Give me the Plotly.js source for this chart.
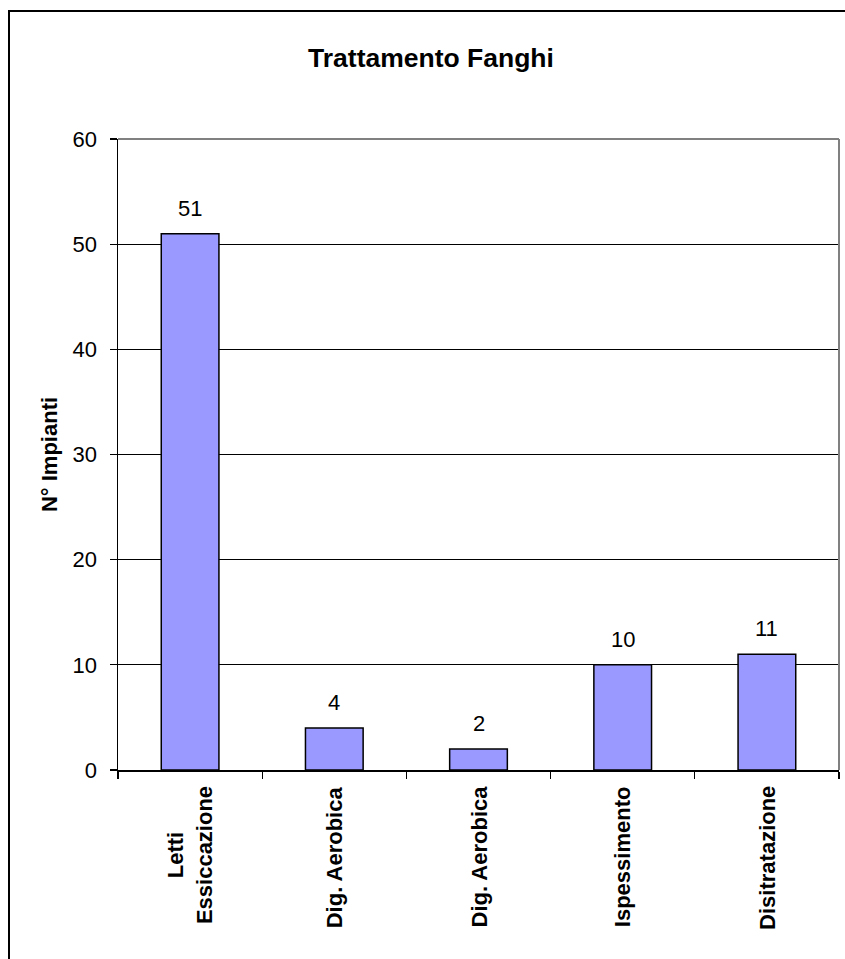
<!DOCTYPE html>
<html>
<head>
<meta charset="utf-8">
<script src="https://cdn.plot.ly/plotly-3.0.1.min.js"></script>
<style>
  html, body { margin: 0; padding: 0; background: #fff; }
  #wrap { position: relative; width: 845px; height: 959px; overflow: hidden; }
  #chart { position: absolute; left: 0; top: 0; width: 845px; height: 959px; }
  #frame { position: absolute; left: 8px; top: 10px; width: 900px; height: 1000px;
           border: 2px solid #000; box-sizing: border-box; pointer-events: none; }
</style>
</head>
<body>
<div id="wrap">
  <div id="chart"></div>
  <div id="frame"></div>
</div>
<script>
const categoryIds = ["c1", "c2", "c3", "c4", "c5"];
const categoryLabels = ["Letti<br>Essiccazione", "Dig. Aerobica", "Dig. Aerobica", "Ispessimento", "Disitratazione"];
const values = [51, 4, 2, 10, 11];
const yTicks = [0, 10, 20, 30, 40, 50, 60];

const font = "Liberation Sans, Arial, sans-serif";
const fs = 22;

const trace = {
  type: "bar",
  x: categoryIds,
  y: values,
  marker: { color: "#9999FF", line: { color: "#000", width: 1.5 } },
  width: 0.4,
  hoverinfo: "skip"
};

const valueLabels = categoryIds.map((c, i) => ({
  x: c, y: values[i], xref: "x", yref: "y",
  text: String(values[i]), showarrow: false,
  yanchor: "bottom", yshift: 11,
  font: { family: font, size: fs, color: "#000" }
}));

const catLabels = categoryIds.map((c, i) => ({
  x: c, y: 0, xref: "x", yref: "paper",
  text: "<b>" + categoryLabels[i].split("<br>").join("</b><br><b>") + "</b>",
  showarrow: false, textangle: -90, align: "center",
  xanchor: "center", yanchor: "top", yshift: -14,
  font: { family: font, size: fs, color: "#000" }
}));

const layout = {
  width: 845, height: 959,
  margin: { l: 118, r: 6, t: 139, b: 189, pad: 0 },
  paper_bgcolor: "#fff", plot_bgcolor: "#fff",
  showlegend: false,
  font: { family: font, size: fs, color: "#000" },
  title: {
    text: "<b>Trattamento Fanghi</b>",
    x: 431 / 845, xref: "container", xanchor: "center",
    y: 1 - 58 / 959, yref: "container", yanchor: "middle",
    font: { family: font, size: 26.5, color: "#000" }
  },
  xaxis: {
    type: "category",
    tickmode: "array", tickvals: categoryIds,
    showticklabels: false,
    tickson: "boundaries",
    ticks: "outside", ticklen: 7, tickwidth: 1.2, tickcolor: "#000",
    showline: true, linecolor: "#000", linewidth: 1.5,
    showgrid: false, zeroline: false,
    fixedrange: true
  },
  yaxis: {
    range: [0, 60],
    tickmode: "array", tickvals: yTicks,
    ticks: "outside", ticklen: 7, tickwidth: 1.2, tickcolor: "#000",
    ticklabelstandoff: 8,
    showline: true, linecolor: "#000", linewidth: 1.5,
    showgrid: true, gridcolor: "#000", gridwidth: 1.2,
    zeroline: false,
    tickfont: { family: font, size: fs, color: "#000" },
    title: { text: "<b>N° Impianti</b>", standoff: 9, font: { family: font, size: fs, color: "#000" } },
    fixedrange: true
  },
  shapes: [
    { type: "line", xref: "paper", yref: "paper", x0: 0, x1: 1, y0: 1, y1: 1,
      line: { color: "#808080", width: 2 }, layer: "above" },
    { type: "line", xref: "paper", yref: "paper", x0: 1, x1: 1, y0: 0, y1: 1,
      line: { color: "#808080", width: 2 }, layer: "above" }
  ],
  annotations: valueLabels.concat(catLabels)
};

Plotly.newPlot("chart", [trace], layout, { displayModeBar: false, staticPlot: true });
</script>
</body>
</html>
